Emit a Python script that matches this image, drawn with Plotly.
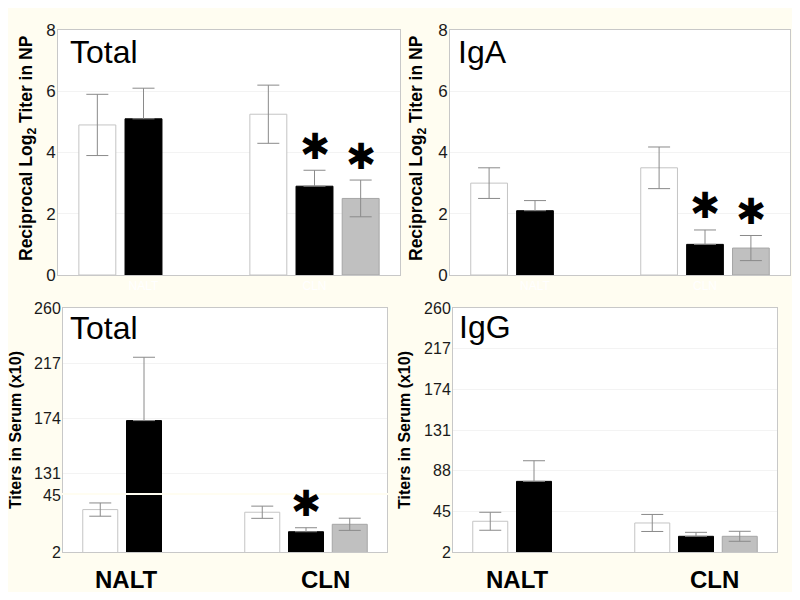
import plotly.graph_objects as go

groups = ["NALT", "CLN"]
series_names = ["Group 1", "Group 2", "Group 3"]

# reciprocal log2 titer in nasal passages, per series [NALT, CLN]
np_total_means = [[4.9, 5.25], [5.1, 2.9], [None, 2.5]]
np_total_errs = [[1.0, 0.95], [1.0, 0.52], [0, 0.6]]
np_total_stars = [[False, False], [False, True], [False, True]]

np_iga_means = [[3.0, 3.5], [2.1, 1.0], [None, 0.88]]
np_iga_errs = [[0.5, 0.68], [0.33, 0.47], [0, 0.41]]
np_iga_stars = [[False, False], [False, True], [False, True]]

# titers in serum (x10)
serum_total_means = [[34, 32], [172, 17.3], [None, 22.9]]
serum_total_errs = [[5, 4.6], [49.5, 3], [0, 4.6]]
serum_total_stars = [[False, False], [False, True], [False, False]]

serum_igg_means = [[34.5, 32.7], [76.7, 18.6], [None, 18.6]]
serum_igg_errs = [[9.5, 9], [21.8, 4.2], [0, 5.3]]

np_ticks = [0, 2, 4, 6, 8]
serum_ticks = [2, 45, 88, 131, 174, 217, 260]
serum_low_ticks = [2, 45]
serum_high_ticks = [131, 174, 217, 260]

fills = ["white", "black", "#c0c0c0"]
edges = ["#c4c4c4", "black", "#a6a6a6"]
whisker = "#8a8a8a"
line_col = "#c8c8c8"
grid_col = "#f3f3f3"
cream = "#fffdf1"
font = "Liberation Sans, Arial, sans-serif"
bargap = 0.19

# the page puts the figure 8px in from the top-left corner
OFF = 8
W, H = 800 - 2 * OFF, 600 - 2 * OFF


def px(x):
    return (x - OFF) / W


def py(y):
    return 1 - (y - OFF) / H


fig = go.Figure()


def add_bars(means, errs, xa, ya):
    for i in range(3):
        minus = [0] * len(errs[i]) if i == 1 else errs[i]
        fig.add_trace(go.Bar(
            x=groups, y=means[i], name=series_names[i], xaxis=xa, yaxis=ya,
            marker=dict(color=fills[i], line=dict(color=edges[i], width=1)),
            error_y=dict(type="data", symmetric=False, array=errs[i], arrayminus=minus,
                         color=whisker, thickness=1, width=11),
            showlegend=False, cliponaxis=True,
        ))


add_bars(np_total_means, np_total_errs, "x", "y")
add_bars(np_iga_means, np_iga_errs, "x2", "y2")
add_bars(serum_total_means, serum_total_errs, "x3", "y3")
add_bars(serum_igg_means, serum_igg_errs, "x4", "y4")
add_bars(serum_total_means, serum_total_errs, "x5", "y5")

top_x = dict(type="category", range=[-0.5, 1.5], showline=True, linecolor=line_col,
             mirror=True, ticks="", showgrid=False, zeroline=False, automargin=False,
             tickfont=dict(family=font, size=12, color="white"))
bottom_x = dict(type="category", range=[-0.5, 1.5], showline=True, linecolor=line_col,
                ticks="", showgrid=False, zeroline=False, showticklabels=False, automargin=False)
y_common = dict(showline=True, linecolor=line_col, mirror=True, ticks="", showgrid=True,
                gridcolor=grid_col, zeroline=False, ticklabelstandoff=-2, automargin=False)

fig.update_layout(
    width=W, height=H, margin=dict(l=0, r=0, t=0, b=0, autoexpand=False),
    paper_bgcolor=cream, plot_bgcolor="white",
    barmode="group", bargap=bargap, bargroupgap=0.2,
    font=dict(family=font, color="#1a1a1a"),
    xaxis=dict(top_x, domain=[px(58), px(400)], anchor="y"),
    yaxis=dict(y_common, domain=[py(275), py(30)], anchor="x", range=[0, 8],
               tickvals=np_ticks, tickfont=dict(size=17)),
    xaxis2=dict(top_x, domain=[px(450), px(790)], anchor="y2"),
    yaxis2=dict(y_common, domain=[py(275), py(30)], anchor="x2", range=[0, 8],
                tickvals=np_ticks, tickfont=dict(size=17)),
    xaxis3=dict(bottom_x, domain=[px(63), px(387)], anchor="y3"),
    yaxis3=dict(y_common, domain=[py(552), py(495)], anchor="x3", range=[2, 45],
                tickvals=serum_low_ticks, tickfont=dict(size=16)),
    xaxis5=dict(bottom_x, domain=[px(63), px(387)], anchor="y5", side="top", matches="x3"),
    yaxis5=dict(y_common, domain=[py(493), py(308)], anchor="x5", range=[115.4, 260],
                tickvals=serum_high_ticks, tickfont=dict(size=16)),
    xaxis4=dict(bottom_x, domain=[px(453), px(777)], anchor="y4", mirror=True),
    yaxis4=dict(y_common, domain=[py(552), py(308)], anchor="x4", range=[2, 260],
                tickvals=serum_ticks, tickfont=dict(size=16)),
)

ann = []
for text, x, y in [("Total", 68, 52), ("IgA", 456, 52), ("Total", 68, 328), ("IgG", 457, 327)]:
    ann.append(dict(text=text, x=px(x), y=py(y), xref="paper", yref="paper", xanchor="left",
                    yanchor="middle", showarrow=False, font=dict(size=32, color="black")))

np_title = "<b>Reciprocal Log<sub>2</sub> Titer in NP</b>"
serum_title = "<b>Titers in Serum (x10)</b>"
for text, x, y, size in [(np_title, 28, 148, 17.5), (np_title, 418, 148, 17.5),
                         (serum_title, 15, 430, 16), (serum_title, 404, 430, 16)]:
    ann.append(dict(text=text, x=px(x), y=py(y), xref="paper", yref="paper", textangle=-90,
                    xanchor="center", yanchor="middle",
                    showarrow=False, font=dict(size=size, color="black")))

for text, x in [("NALT", 126), ("CLN", 325), ("NALT", 517), ("CLN", 714)]:
    ann.append(dict(text="<b>" + text + "</b>", x=px(x), y=py(579), xref="paper", yref="paper",
                    xanchor="center", yanchor="middle",
                    showarrow=False, font=dict(size=24, color="black")))

slot = (1 - bargap) / 3
for means, errs, stars, xa, ya in [
    (np_total_means, np_total_errs, np_total_stars, "x", "y"),
    (np_iga_means, np_iga_errs, np_iga_stars, "x2", "y2"),
    (serum_total_means, serum_total_errs, serum_total_stars, "x3", "y3"),
]:
    for i in range(3):
        for j in range(2):
            if stars[i][j]:
                ann.append(dict(text="✱", x=j + (i - 1) * slot, y=means[i][j] + errs[i][j],
                                xref=xa, yref=ya, yanchor="middle", yshift=24, showarrow=False,
                                font=dict(size=36, color="black")))

fig.update_layout(annotations=ann)

fig.write_html("out.html")
